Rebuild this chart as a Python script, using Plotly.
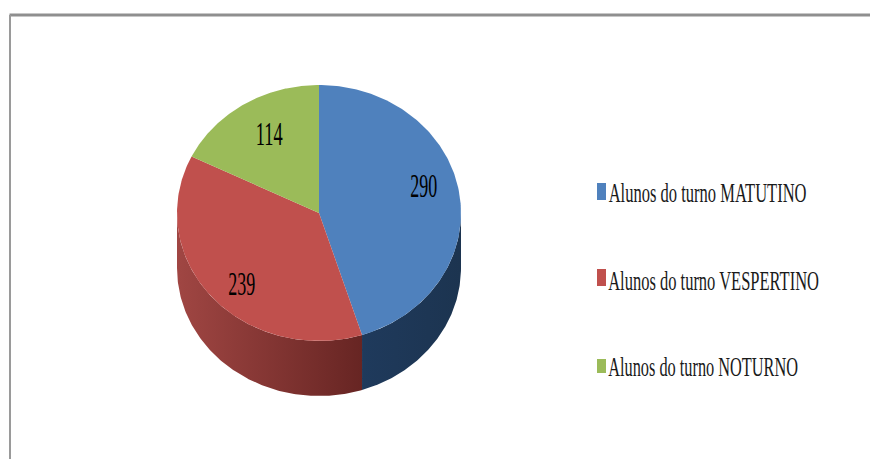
import json
import numpy as np
import plotly.graph_objects as go

# Students per school shift
categories = ["Alunos do turno MATUTINO", "Alunos do turno VESPERTINO", "Alunos do turno NOTURNO"]
values = [290, 239, 114]

top_colors = ["#4f81bd", "#c0504d", "#9bbb59"]
# Wall shading, left colour then right colour
side_gradients = [
    ["#1f3a5c", "#1c3450"],
    ["#a04643", "#672523"],
    None,
]

# Pie geometry in canvas pixels
CX, CY, RX, RY, DEPTH = 319, 213, 142, 128, 55
WIDTH, HEIGHT = 870, 459

# Placement of the value labels and legend rows
label_centers = [(424, 186), (242, 284), (269, 134)]
LABEL_WIDTH = 27
legend_rows = [
    dict(swatch=(183, 200), text_y=193, width=198),
    dict(swatch=(269, 286), text_y=281, width=211),
    dict(swatch=(359, 373), text_y=367, width=190),
]
SWATCH_X = (597, 606)
LEGEND_TEXT_X = 608


def arc(start, end, dy=0.0):
    """Points of the elliptical rim, angles in degrees clockwise from 12 o'clock."""
    t = np.radians(np.linspace(start, end, 160))
    return CX + RX * np.sin(t), CY - RY * np.cos(t) + dy


fig = go.Figure()

total = sum(values)
edges = np.concatenate([[0], np.cumsum(values) / total * 360])

# Visible wall of the cylinder: only the front half of the rim (90 to 270 degrees)
for i, gradient in enumerate(side_gradients):
    start, end = max(edges[i], 90), min(edges[i + 1], 270)
    if gradient is None or start >= end:
        continue
    tx, ty = arc(start, end)
    bx, by = arc(end, start, DEPTH)
    fig.add_trace(go.Scatter(
        x=np.concatenate([tx, bx]), y=np.concatenate([ty, by]),
        mode="lines", line=dict(width=0), fill="toself",
        fillgradient=dict(type="horizontal", colorscale=[[0, gradient[0]], [1, gradient[1]]]),
        hoverinfo="skip", showlegend=False,
    ))

# Top face slices
for i, (name, color) in enumerate(zip(categories, top_colors)):
    ax, ay = arc(edges[i], edges[i + 1])
    fig.add_trace(go.Scatter(
        x=np.concatenate([[CX], ax, [CX]]), y=np.concatenate([[CY], ay, [CY]]),
        mode="lines", line=dict(width=0), fill="toself", fillcolor=color,
        name=name, text=f"{values[i]}", hoverinfo="name+text", showlegend=False,
    ))

annotations = []
text_widths = {}
for value, (x, y) in zip(values, label_centers):
    annotations.append(dict(x=x, y=y, xref="x", yref="y", text=str(value), showarrow=False,
                            font=dict(family="Liberation Serif", size=33, color="#000000")))
    text_widths[str(value)] = LABEL_WIDTH

shapes = [
    dict(type="line", xref="paper", yref="paper", x0=9.5 / WIDTH, x1=1, y0=1 - 15 / HEIGHT, y1=1 - 15 / HEIGHT,
         line=dict(color="#8f8f8f", width=3)),
    dict(type="line", xref="paper", yref="paper", x0=10 / WIDTH, x1=10 / WIDTH, y0=0, y1=1 - 15 / HEIGHT,
         line=dict(color="#9a9a9a", width=2)),
]
for name, color, row in zip(categories, top_colors, legend_rows):
    shapes.append(dict(type="rect", xref="x", yref="y", x0=SWATCH_X[0], x1=SWATCH_X[1],
                       y0=row["swatch"][0], y1=row["swatch"][1], fillcolor=color, line=dict(width=0)))
    annotations.append(dict(x=LEGEND_TEXT_X + row["width"] / 2, y=row["text_y"], xref="x", yref="y",
                            text=name, showarrow=False,
                            font=dict(family="Liberation Serif", size=27, color="#1a1a1a")))
    text_widths[name] = row["width"]

fig.update_layout(
    width=WIDTH, height=HEIGHT, margin=dict(l=0, r=0, t=0, b=0),
    paper_bgcolor="#ffffff", plot_bgcolor="#ffffff",
    xaxis=dict(range=[0, WIDTH], visible=False, fixedrange=True),
    yaxis=dict(range=[HEIGHT, 0], visible=False, fixedrange=True),
    shapes=shapes, annotations=annotations, showlegend=False,
)

# The typeface is set in a tall, narrow cut: squeeze each string about its centre to its set width
narrow_text = """
var widths = %s;
document.querySelectorAll('.annotation-text').forEach(function (t) {
  var w = widths[t.textContent];
  if (!w) { return; }
  var k = w / t.getComputedTextLength();
  var cx = parseFloat(t.getAttribute('x'));
  t.setAttribute('transform', 'translate(' + cx + ',0) scale(' + k + ',1) translate(' + (-cx) + ',0)');
});
""" % json.dumps(text_widths)

fig.write_html("out.html", post_script=narrow_text, config={"displayModeBar": False})
